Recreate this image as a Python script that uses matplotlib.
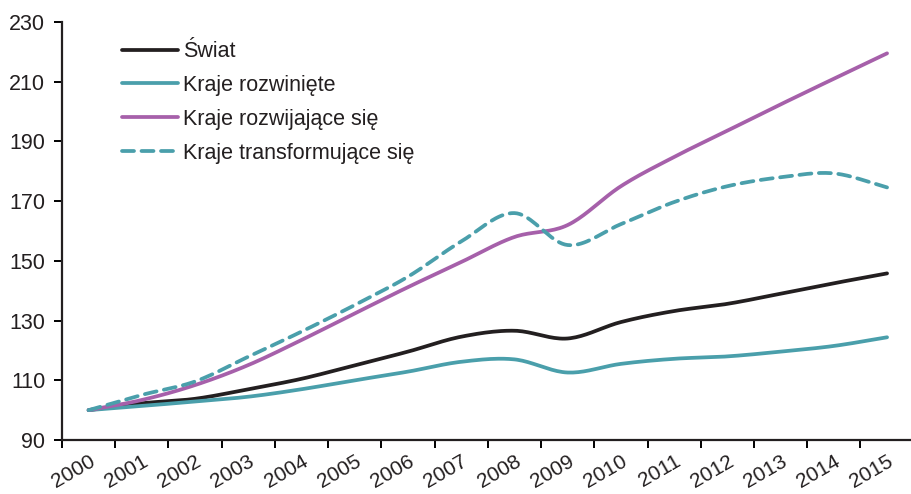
import matplotlib
matplotlib.use("Agg")
import matplotlib.pyplot as plt
import numpy as np

plt.rcParams["font.family"] = ["Liberation Sans", "DejaVu Sans"]

years = [str(y) for y in range(2000, 2016)]

swiat = [100, 102.3, 103.8, 107.0, 110.5, 115.0, 119.6, 124.6,
         126.6, 124.0, 129.5, 133.2, 135.6, 139.0, 142.5, 145.8]
rozwiniete = [100, 101.4, 102.9, 104.5, 107.0, 110.0, 112.9, 116.2,
              117.0, 112.6, 115.5, 117.2, 118.0, 119.6, 121.5, 124.4]
rozwijajace = [100, 103.4, 108.4, 115.1, 123.5, 132.4, 141.2, 149.6,
               158.0, 162.0, 175.0, 184.8, 193.6, 202.4, 211.0, 219.5]
transformujace = [100, 105.1, 109.6, 117.9, 126.3, 135.2, 144.7, 156.5,
                  166.0, 155.3, 162.3, 169.7, 175.0, 178.0, 179.3, 174.6]

series = [
    ("Świat", swiat, "#231f20", "-"),
    ("Kraje rozwinięte", rozwiniete, "#4a9fab", "-"),
    ("Kraje rozwijające się", rozwijajace, "#a660aa", "-"),
    ("Kraje transformujące się", transformujace, "#4a9fab", "--"),
]


def smooth(x, y, n=20):
    # Catmull-Rom spline through the points, like Excel's smoothed line
    x = np.asarray(x, float)
    y = np.asarray(y, float)
    px = np.concatenate([[2 * x[0] - x[1]], x, [2 * x[-1] - x[-2]]])
    py = np.concatenate([[2 * y[0] - y[1]], y, [2 * y[-1] - y[-2]]])
    xs, ys = [], []
    t = np.linspace(0, 1, n, endpoint=False)
    for i in range(1, len(px) - 2):
        for p, out in ((px, xs), (py, ys)):
            p0, p1, p2, p3 = p[i - 1], p[i], p[i + 1], p[i + 2]
            m1 = (p2 - p0) / 2
            m2 = (p3 - p1) / 2
            h00 = 2 * t**3 - 3 * t**2 + 1
            h10 = t**3 - 2 * t**2 + t
            h01 = -2 * t**3 + 3 * t**2
            h11 = t**3 - t**2
            out.extend(h00 * p1 + h10 * m1 + h01 * p2 + h11 * m2)
    xs.append(x[-1])
    ys.append(y[-1])
    return np.array(xs), np.array(ys)


fig = plt.figure(figsize=(9.11, 4.94), dpi=100)
ax = fig.add_axes([62 / 911, 1 - 440 / 494, 849 / 911, 418 / 494])

pos = np.arange(len(years))
for label, vals, color, ls in series:
    sx, sy = smooth(pos, vals)
    line, = ax.plot(sx, sy, color=color, lw=2.7, ls=ls, label=label,
                    solid_capstyle="round", dash_capstyle="round")
    if ls == "--":
        line.set_dashes((3.2, 2.0))

ax.set_ylim(90, 230)
ax.set_yticks(range(90, 231, 20))
ax.set_xlim(-0.5, 15.45)
ax.set_xticks(pos - 0.5)
ax.set_xticklabels([])
ax.set_xticks(pos, minor=True)
ax.set_xticklabels(years, minor=True, rotation=30, ha="right", va="top",
                   rotation_mode="anchor")
ax.tick_params(axis="x", which="minor", length=0, pad=8.5, labelsize=15,
               labelcolor="#231f20")
ax.tick_params(axis="x", which="major", length=6, width=1.4, direction="out")
ax.tick_params(axis="y", length=6, width=1.4, direction="out", labelsize=15.5,
               pad=6, labelcolor="#231f20")

for side in ("top", "right"):
    ax.spines[side].set_visible(False)
for side in ("left", "bottom"):
    ax.spines[side].set_linewidth(1.6)
    ax.spines[side].set_color("#231f20")

leg = ax.legend(loc="upper left", bbox_to_anchor=(0.060, 0.975), frameon=False,
                fontsize=15.5, handlelength=2.6, handletextpad=0.25,
                labelspacing=0.6, borderaxespad=0)
for t in leg.get_texts():
    t.set_color("#231f20")

fig.savefig("out.png", dpi=100)
